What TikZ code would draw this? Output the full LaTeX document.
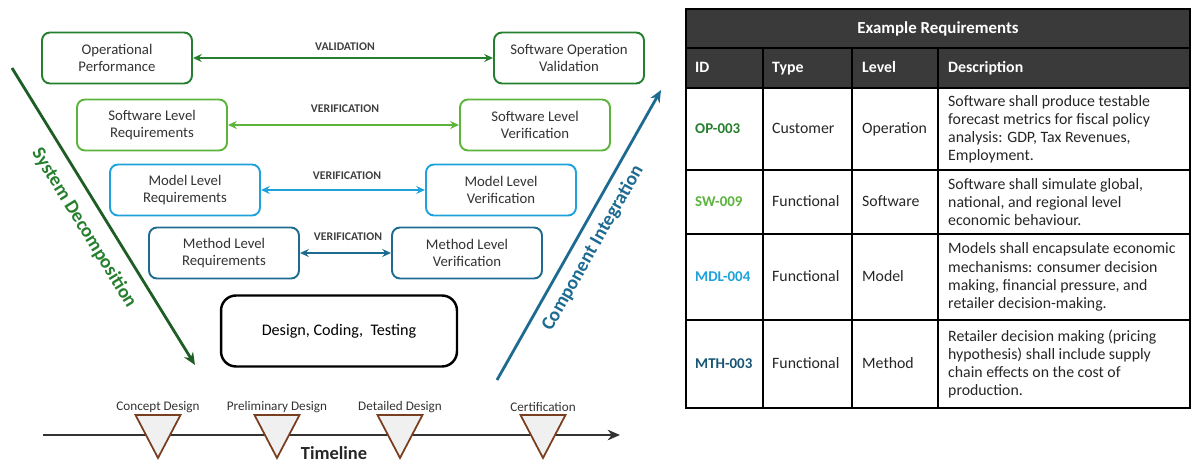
\documentclass[tikz,border=0pt]{standalone}
\usepackage{fontspec}
\setmainfont{Carlito}
\usetikzlibrary{arrows.meta}
\definecolor{opgreen}{RGB}{38,127,46}
\definecolor{swgreen}{RGB}{92,180,60}
\definecolor{mdlblue}{RGB}{31,162,220}
\definecolor{mthblue}{RGB}{30,107,146}
\definecolor{decomp}{RGB}{30,94,36}
\definecolor{hdrgray}{RGB}{58,58,58}
\definecolor{msbrown}{RGB}{120,62,30}
\begin{document}
\begin{tikzpicture}[x=0.02cm,y=-0.02cm]
\tikzset{levelbox/.style={draw, line width=1.1pt, rounded corners=0.16cm, minimum width=3cm, minimum height=1.02cm, align=center, fill=white, text=black!80, font=\fontsize{8.4}{9.4}\selectfont},
  vlabel/.style={font=\fontsize{6.7}{7.5}\selectfont\bfseries, text=black!75},
  link/.style={{Stealth[length=5pt,width=4.5pt]}-{Stealth[length=5pt,width=4.5pt]}, line width=1pt},
  bigarrow/.style={-{Stealth[length=7pt,width=6pt]}, line width=1.6pt},
  vtext/.style={font=\fontsize{11}{12}\selectfont\bfseries},
  milestone/.style={draw=msbrown, fill=black!6, line width=1pt, line join=miter},
  mslabel/.style={font=\fontsize{7.5}{8.5}\selectfont, text=black!80},
  cell/.style={anchor=base west, text=black!85, font=\fontsize{9}{10.3}\selectfont},
  hcell/.style={anchor=base west, text=white, font=\fontsize{9}{10.3}\selectfont\bfseries}}
\useasboundingbox (0,0) rectangle (1191,462);
\node[levelbox, draw=opgreen] (OP) at (117,58) {Operational\\Performance};
\node[levelbox, draw=opgreen] (OPV) at (569,58) {Software Operation\\Validation};
\node[levelbox, draw=swgreen] (SW) at (152,125) {Software Level\\Requirements};
\node[levelbox, draw=swgreen] (SWV) at (535,125) {Software Level\\Verification};
\node[levelbox, draw=mdlblue] (MDL) at (185,190) {Model Level\\Requirements};
\node[levelbox, draw=mdlblue] (MDLV) at (501,190) {Model Level\\Verification};
\node[levelbox, draw=mthblue] (MTH) at (224,253) {Method Level\\Requirements};
\node[levelbox, draw=mthblue] (MTHV) at (467,253) {Method Level\\Verification};
\node[draw, line width=1.4pt, rounded corners=0.3cm, minimum width=4.72cm, minimum height=1.42cm, font=\fontsize{9.2}{11}\selectfont] (DCT) at (339,331) {Design, Coding,\ \ Testing};
\draw[link, opgreen] (OP) -- (OPV);
\draw[link, swgreen] (SW) -- (SWV);
\draw[link, mdlblue] (MDL) -- (MDLV);
\draw[link, mthblue] (MTH) -- (MTHV);
\node[vlabel] (val) at (345,47) {VALIDATION};
\node[vlabel] (ver1) at (345,109) {VERIFICATION};
\node[vlabel] (ver2) at (347,176) {VERIFICATION};
\node[vlabel] (ver3) at (348,237) {VERIFICATION};
% V arms
\coordinate (sd1) at (12,68);
\coordinate (sd2) at (195,365);
\draw[bigarrow, decomp] (sd1) -- (sd2);
\node[vtext, text=opgreen, rotate=-58.4] (sdtext) at (84,228) {System Decomposition};
\coordinate (ci1) at (497,380);
\coordinate (ci2) at (661,90);
\draw[bigarrow, mthblue] (ci1) -- (ci2);
\node[vtext, text=mthblue, rotate=60.5] (citext) at (593,248) {Component Integration};
% timeline
\coordinate (tl1) at (43,435);
\coordinate (tl2) at (620,435);
\draw[bigarrow, black!80] (tl1) -- (tl2);
\foreach \x/\name/\txt in {158/cd/Concept Design, 277/pd/Preliminary Design, 400/dd/Detailed Design, 543/ce/Certification} {
  \draw[milestone] (\x-22.5,415) -- (\x+22.5,415) -- (\x,458) -- cycle;
  \node[mslabel] (\name) at (\x,407) {\txt};
}
\node[font=\fontsize{10.5}{12}\selectfont\bfseries, text=black!85] (tl) at (334,453) {Timeline};
% table
\fill[hdrgray] (686,9) rectangle (1190,88);
\draw[line width=0.8pt] (686,9) rectangle (1190,408);
\foreach \y in {48,88,170,234,320} \draw[line width=0.8pt] (686,\y) -- (1190,\y);
\foreach \x in {763,852,938} \draw[line width=0.8pt] (\x,48) -- (\x,408);
\node[font=\fontsize{9.6}{11}\selectfont\bfseries, text=white] (title) at (938,29) {Example Requirements};
\node[hcell] (hid) at (689,73) {ID};
\node[hcell] (htype) at (766,73) {Type};
\node[hcell] (hlvl) at (856,73) {Level};
\node[hcell] (hdesc) at (942,73) {Description};
\foreach \n/\y/\col/\id/\typ/\lvl/\desc in {
  1/129/opgreen/OP-003/Customer/Operation/{Software shall produce testable\\forecast metrics for fiscal policy\\analysis: GDP, Tax Revenues,\\Employment.},
  2/202/swgreen/SW-009/Functional/Software/{Software shall simulate global,\\national, and regional level\\economic behaviour.},
  3/277/mdlblue/MDL-004/Functional/Model/{Models shall encapsulate economic\\mechanisms: consumer decision\\making, financial pressure, and\\retailer decision-making.},
  4/364/mthblue!80!black/MTH-003/Functional/Method/{Retailer decision making (pricing\\hypothesis) shall include supply\\chain effects on the cost of\\production.}} {
  \node[cell, text=\col, font=\fontsize{8.5}{10.3}\selectfont\bfseries] (id\n) at (689,\y+5) {\id};
  \node[cell] (typ\n) at (766,\y+5) {\typ};
  \node[cell] (lvl\n) at (856,\y+5) {\lvl};
  \node[cell, anchor=west, align=left] (desc\n) at (942,\y) {\desc};
}
\end{tikzpicture}
\end{document}
